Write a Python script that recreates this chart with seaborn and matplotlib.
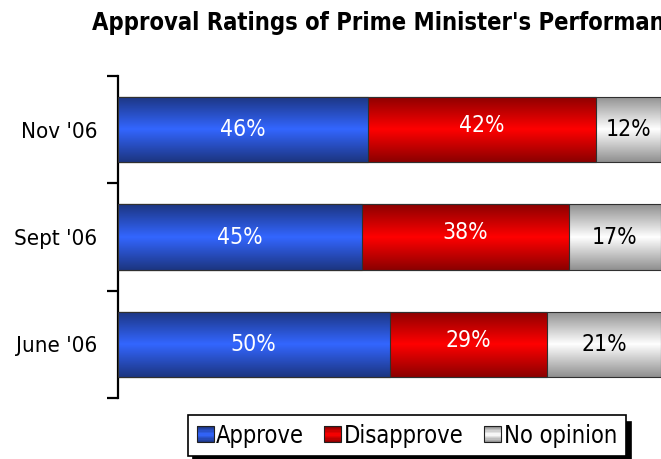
import numpy as np
import pandas as pd
import matplotlib
matplotlib.use("Agg")
import matplotlib.pyplot as plt
import seaborn as sns
from matplotlib.colors import LinearSegmentedColormap
from matplotlib.patches import Patch, Rectangle
from matplotlib.legend_handler import HandlerBase
from matplotlib import font_manager

# ---- data ----
categories = ["Nov '06", "Sept '06", "June '06"]
approve = [46, 45, 50]
disapprove = [42, 38, 29]
no_opinion = [12, 17, 21]
series_names = ["Approve", "Disapprove", "No opinion"]
title = "Approval Ratings of Prime Minister's Performance"

# ---- styles ----
grad_colors = {
    "Approve": ("#1c3580", "#3366ff"),
    "Disapprove": ("#8b0000", "#ff0000"),
    "No opinion": ("#8f8f8f", "#ffffff"),
}
label_colors = {"Approve": "white", "Disapprove": "white", "No opinion": "black"}
label_dy = {"Approve": 0.0, "Disapprove": -0.04, "No opinion": 0.0}

sns.set_theme(style="white")
names = {f.name for f in font_manager.fontManager.ttflist}
if "DejaVu Sans Condensed" in names:
    plt.rcParams['font.family'] = ['DejaVu Sans Condensed', 'DejaVu Sans']
else:
    plt.rcParams['font.family'] = ['DejaVu Sans']
    plt.rcParams['font.stretch'] = 'condensed'

fig = plt.figure(figsize=(6.61, 4.59), dpi=100)
ax = fig.add_axes([118 / 661, 1 - 398 / 459, 1 - 118 / 661, (398 - 76) / 459])

df = pd.DataFrame({"period": categories, "Approve": approve,
                   "Disapprove": disapprove, "No opinion": no_opinion})
df["cum_Approve"] = df["Approve"]
df["cum_Disapprove"] = df["cum_Approve"] + df["Disapprove"]
df["cum_No opinion"] = df["cum_Disapprove"] + df["No opinion"]

def make_cmap(name):
    e, c = grad_colors[name]
    return LinearSegmentedColormap.from_list(name, [e, c, e])

grad = np.linspace(0, 1, 256).reshape(-1, 1)
order = ["No opinion", "Disapprove", "Approve"]
for li, name in enumerate(order):
    n0 = len(ax.patches)
    sns.barplot(data=df, x="cum_" + name, y="period", orient="h",
                color=grad_colors[name][1], width=0.61, ax=ax,
                edgecolor="#303030", linewidth=0.8)
    cmap = make_cmap(name)
    for p in ax.patches[n0:]:
        x0, y0, w, h = p.get_x(), p.get_y(), p.get_width(), p.get_height()
        im = ax.imshow(grad, cmap=cmap, aspect="auto",
                       extent=[x0, x0 + w, y0 + h, y0], zorder=1 + li)
        im.set_clip_path(p)
        p.set_facecolor("none")
        p.set_zorder(1.5 + li)

# value labels
starts = {"Approve": [0] * 3,
          "Disapprove": list(df["cum_Approve"]),
          "No opinion": list(df["cum_Disapprove"])}
for name in series_names:
    for i, v in enumerate(df[name]):
        ax.text(starts[name][i] + v / 2, i + label_dy[name], f"{v}%", ha="center",
                va="center", color=label_colors[name], fontsize=16.5, zorder=10)

ax.set_xlim(0, 100)
ax.set_ylim(2.5, -0.5)
ax.set_xlabel("")
ax.set_ylabel("")
ax.set_xticks([])
ax.set_yticks(range(len(categories)))
ax.set_yticklabels(categories)
ax.set_yticks([-0.5, 0.5, 1.5, 2.5], minor=True)
ax.tick_params(axis="y", which="major", length=0, pad=15, labelsize=16, labelcolor="black")
ax.tick_params(axis="y", which="minor", left=True, length=8, width=1.6, color="black")
for s in ["top", "right", "bottom"]:
    ax.spines[s].set_visible(False)
ax.spines["left"].set_color("black")
ax.spines["left"].set_linewidth(1.6)

fig.text(92 / 661, 1 - 30 / 459, title, ha="left", va="baseline",
         fontsize=17, fontweight="bold", color="black")

class GradHandler(HandlerBase):
    def create_artists(self, legend, orig_handle, xdescent, ydescent,
                       width, height, fontsize, trans):
        name = orig_handle.get_label()
        cmap = make_cmap(name)
        arts = []
        n = 12
        for k in range(n):
            r = Rectangle((-xdescent, -ydescent + height * k / n), width, height / n,
                          facecolor=cmap((k + 0.5) / n), edgecolor="none", transform=trans)
            arts.append(r)
        arts.append(Rectangle((-xdescent, -ydescent), width, height, facecolor="none",
                              edgecolor="#202020", linewidth=0.8, transform=trans))
        return arts

handles = [Patch(label=n) for n in series_names]
leg = fig.legend(handles, series_names, loc="upper left",
                 bbox_to_anchor=(188 / 661, 1 - 415 / 459), ncol=3,
                 frameon=True, fancybox=False, edgecolor="black", framealpha=1,
                 fontsize=17, handlelength=0.72, handleheight=0.66, handletextpad=0.12,
                 columnspacing=0.85, borderpad=0.36, borderaxespad=0,
                 handler_map={Patch: GradHandler()},
                 shadow={"ox": 3.6, "oy": -5, "color": "black", "alpha": 1})
leg.get_frame().set_linewidth(1.2)
for t in leg.get_texts():
    t.set_color("black")

fig.savefig("out.png", dpi=100)
